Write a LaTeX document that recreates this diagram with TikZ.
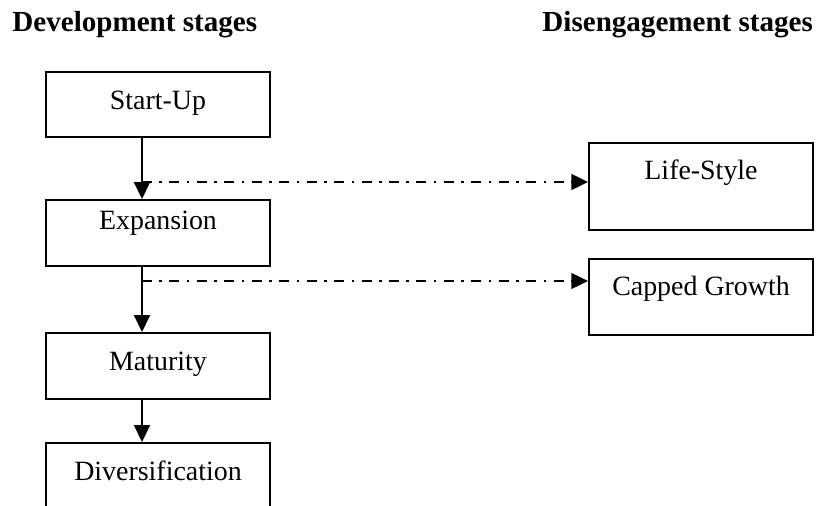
\documentclass[tikz,border=0pt]{standalone}
\usepackage{fontspec}
\setmainfont{Liberation Serif}
\usetikzlibrary{arrows.meta}

\begin{document}
\begin{tikzpicture}[x=0.43pt, y=-0.43pt,
        stage/.style = {draw, line width=0.86pt, minimum width=96.3pt, inner sep=0pt, text height=8pt, font=\fontsize{12}{14}\selectfont},
        heading/.style = {anchor=base west, inner sep=0pt, font=\fontsize{12.5}{15}\selectfont\bfseries},
        flow/.style = {->, line width=0.86pt},
        exit/.style = {->, line width=0.9pt, dash pattern=on 4.3pt off 3.2pt on 1.1pt off 3.2pt},
        >={Triangle[length=7.2pt, width=6.8pt]}]
        \useasboundingbox (0,0) rectangle (816,506);
        \clip (0,0) rectangle (816,506);
        \node[heading] (dev) at (12,32) {Development stages};
        \node[heading] (dis) at (542,32) {Disengagement stages};
        % development column
        \node[stage, minimum height=27.95pt, text depth=3.3pt] (startup) at (158,104.5) {Start-Up};
        \node[stage, minimum height=28.4pt, text depth=11.2pt] (expansion) at (158,233) {Expansion};
        \node[stage, minimum height=28.4pt, text depth=4.56pt] (maturity) at (158,366) {Maturity};
        \node[stage, minimum height=29.7pt, text depth=5.85pt] (divers) at (158,477.5) {Diversification};
        % disengagement column
        \node[stage, minimum height=37.4pt, text depth=13.6pt] (lifestyle) at (701,186.5) {Life-Style};
        \node[stage, minimum height=32.7pt, text depth=9.7pt] (capped) at (701,297) {Capped Growth};
        \coordinate (col) at (142,0);
        \coordinate (exit1) at (142,182);
        \coordinate (exit2) at (142,281);
        \draw[flow] (startup.south -| col) -- (expansion.north -| col);
        \draw[flow] (expansion.south -| col) -- (maturity.north -| col);
        \draw[flow] (maturity.south -| col) -- (divers.north -| col);
        \draw[exit] (exit1) -- (exit1 -| lifestyle.west);
        \draw[exit] (exit2) -- (exit2 -| capped.west);
        \end{tikzpicture}
\end{document}
